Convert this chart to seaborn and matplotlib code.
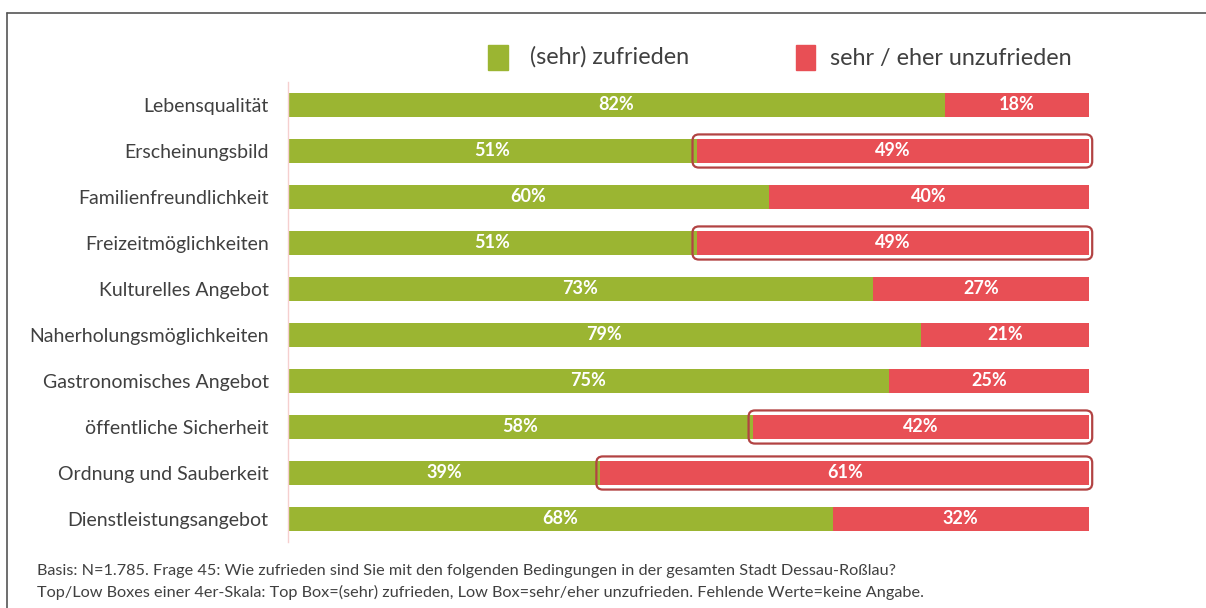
import matplotlib
matplotlib.use("Agg")
import matplotlib.pyplot as plt
from matplotlib.patches import FancyBboxPatch, Rectangle
from matplotlib.lines import Line2D
import seaborn as sns
import pandas as pd

# data
categories = ["Lebensqualität", "Erscheinungsbild", "Familienfreundlichkeit",
              "Freizeitmöglichkeiten", "Kulturelles Angebot", "Naherholungsmöglichkeiten",
              "Gastronomisches Angebot", "öffentliche Sicherheit", "Ordnung und Sauberkeit",
              "Dienstleistungsangebot"]
zufrieden = [82, 51, 60, 51, 73, 79, 75, 58, 39, 68]
unzufrieden = [18, 49, 40, 49, 27, 21, 25, 42, 61, 32]
highlight = ["Erscheinungsbild", "Freizeitmöglichkeiten", "öffentliche Sicherheit",
             "Ordnung und Sauberkeit"]

GREEN = "#9BB532"
RED = "#E84F55"
TXT = "#404040"

df = pd.DataFrame({"cat": categories, "gruen": zufrieden, "rot": unzufrieden})
df["total"] = df["gruen"] + df["rot"]

sns.set_style("white")
plt.rcParams["font.family"] = ["Lato", "DejaVu Sans"]

fig = plt.figure(figsize=(12.06, 6.08), dpi=100)
ax = fig.add_axes([288 / 1206, 1 - 542 / 608, (1089 - 288) / 1206, 460 / 608])

sns.barplot(data=df, y="cat", x="total", color=RED, orient="h", width=0.53,
            saturation=1, linewidth=0, ax=ax)
sns.barplot(data=df, y="cat", x="gruen", color=GREEN, orient="h", width=0.53,
            saturation=1, linewidth=0, ax=ax)

ax.set_xlim(0, 100)
ax.set_ylim(len(categories) - 0.5, -0.5)
ax.set_xlabel("")
ax.set_ylabel("")
ax.set_xticks([])
for s in ["top", "right", "bottom"]:
    ax.spines[s].set_visible(False)
ax.spines["left"].set_color("#F6CFCF")
ax.spines["left"].set_linewidth(1)
ax.tick_params(axis="y", which="major", length=0, pad=14, labelsize=14, labelcolor=TXT)
ax.set_yticks([i - 0.5 for i in range(len(categories) + 1)], minor=True)
ax.tick_params(axis="y", which="minor", length=6, color="#F6CFCF", width=1)

for i, row in df.iterrows():
    ax.text(row["gruen"] / 2, i, f"{row['gruen']}%", ha="center", va="center",
            color="white", fontsize=13, fontweight="bold")
    ax.text(row["gruen"] + row["rot"] / 2, i, f"{row['rot']}%", ha="center",
            va="center", color="white", fontsize=13, fontweight="bold")
    if row["cat"] in highlight:
        box = FancyBboxPatch((row["gruen"] - 0.5, i - 0.36), row["rot"] + 0.9, 0.72,
                             boxstyle="round,pad=0,rounding_size=0.8",
                             mutation_aspect=0.17, fill=False,
                             edgecolor="#B24343", linewidth=1.6, clip_on=False)
        ax.add_patch(box)

# legend
fig.patches.append(Rectangle((488 / 1206, 1 - 70 / 608), 20 / 1206, 25 / 608,
                             transform=fig.transFigure, color=GREEN))
fig.text(530 / 1206, 1 - 57 / 608, "(sehr) zufrieden", fontsize=16.8, color=TXT,
         va="center")
fig.patches.append(Rectangle((796 / 1206, 1 - 70 / 608), 19 / 1206, 25 / 608,
                             transform=fig.transFigure, color=RED))
fig.text(830 / 1206, 1 - 58 / 608, "sehr / eher unzufrieden", fontsize=16.8, color=TXT,
         va="center")

# footnote
fig.text(37 / 1206, 1 - 571 / 608,
         "Basis: N=1.785. Frage 45: Wie zufrieden sind Sie mit den folgenden Bedingungen in der gesamten Stadt Dessau-Roßlau?",
         fontsize=11.7, color=TXT, va="center")
fig.text(37 / 1206, 1 - 592 / 608,
         "Top/Low Boxes einer 4er-Skala: Top Box=(sehr) zufrieden, Low Box=sehr/eher unzufrieden. Fehlende Werte=keine Angabe.",
         fontsize=11.7, color=TXT, va="center")

# frame
fig.add_artist(Line2D([7 / 1206, 1], [1 - 13 / 608, 1 - 13 / 608],
                      transform=fig.transFigure, color="#555555", linewidth=1.2))
fig.add_artist(Line2D([7 / 1206, 7 / 1206], [0, 1 - 13 / 608],
                      transform=fig.transFigure, color="#555555", linewidth=1.2))

fig.savefig("out.png", dpi=100)
